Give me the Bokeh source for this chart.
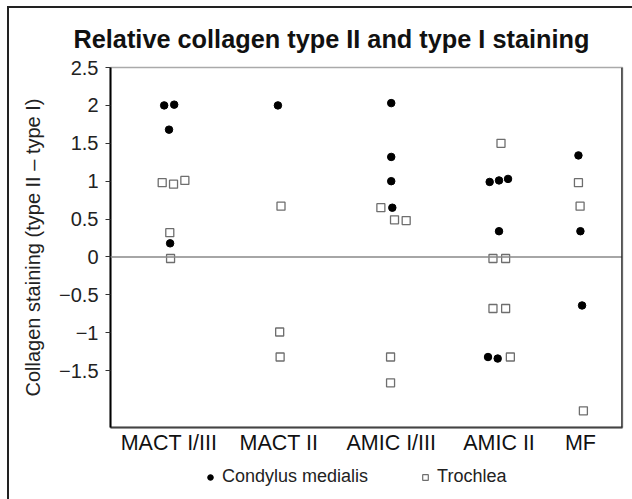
from bokeh.plotting import figure
from bokeh.layouts import column
from bokeh.models import FixedTicker, Span, Legend, LegendItem, ColumnDataSource, Range1d
from bokeh.embed import file_html
from bokeh.resources import INLINE

categories = ["MACT I/III", "MACT II", "AMIC I/III", "AMIC II", "MF"]
category_x = [1.0, 2.0, 3.02, 4.0, 4.74]

y_ticks = [-1.5, -1, -0.5, 0, 0.5, 1, 1.5, 2, 2.5]
y_tick_labels = ["\u22121.5", "\u22121", "\u22120.5", "0", "0.5", "1", "1.5", "2", "2.5"]

condylus_cat = (["MACT I/III"] * 4 + ["MACT II"] + ["AMIC I/III"] * 4
                + ["AMIC II"] * 6 + ["MF"] * 3)
condylus_val = [2.0, 2.01, 1.68, 0.18,
                2.0,
                2.03, 1.32, 1.0, 0.65,
                0.99, 1.01, 1.03, 0.34, -1.32, -1.34,
                1.34, 0.34, -0.64]
condylus_jit = [-0.044, 0.047, 0.0, 0.01,
                -0.01,
                0.0, 0.0, 0.0, 0.01,
                -0.085, 0.0, 0.082, 0.0, -0.1, -0.012,
                -0.018, 0.0, 0.015]

trochlea_cat = (["MACT I/III"] * 5 + ["MACT II"] * 3 + ["AMIC I/III"] * 5
                + ["AMIC II"] * 6 + ["MF"] * 3)
trochlea_val = [0.98, 0.96, 1.01, 0.32, -0.02,
                0.67, -0.99, -1.32,
                0.65, 0.49, 0.48, -1.32, -1.66,
                1.5, -0.02, -0.02, -0.68, -0.68, -1.32,
                0.98, 0.67, -2.03]
trochlea_jit = [-0.062, 0.041, 0.144, 0.007, 0.014,
                0.018, 0.006, 0.01,
                -0.094, 0.03, 0.136, -0.006, -0.006,
                0.018, -0.055, 0.06, -0.055, 0.06, 0.103,
                -0.018, -0.003, 0.027]

pos = dict(zip(categories, category_x))
cond_src = ColumnDataSource(dict(
    x=[pos[c] + j for c, j in zip(condylus_cat, condylus_jit)], y=condylus_val))
troch_src = ColumnDataSource(dict(
    x=[pos[c] + j for c, j in zip(trochlea_cat, trochlea_jit)], y=trochlea_val))

FONT = "Liberation Sans"
X_END = 0.468 + 512 / 110.0

p = figure(width=623, height=451, output_backend="svg", toolbar_location=None,
           x_range=Range1d(0.468, X_END), y_range=Range1d(-2.25, 2.5),
           min_border_left=101, min_border_right=10, min_border_top=59, min_border_bottom=32,
           title="Relative collagen type II and type I staining")

p.title.text_font = FONT
p.title.text_font_size = "25.3px"
p.title.text_font_style = "bold"
p.title.text_color = "#111111"
p.title.text_line_height = 0.9
p.title.align = "left"
p.title.offset = -37
p.title.standoff = 29

p.xgrid.visible = False
p.ygrid.visible = False
p.outline_line_color = "#aaaaaa"
p.outline_line_width = 1.5

# y axis
p.yaxis.ticker = FixedTicker(ticks=y_ticks)
p.yaxis.major_label_overrides = {t: l for t, l in zip(y_ticks, y_tick_labels)}
p.yaxis.axis_line_color = "black"
p.yaxis.axis_line_width = 2
p.yaxis.major_tick_in = 0
p.yaxis.major_tick_out = 5
p.yaxis.major_tick_line_color = "#333333"
p.yaxis.minor_tick_line_color = None
p.yaxis.major_label_text_font = FONT
p.yaxis.major_label_text_font_size = "20px"
p.yaxis.major_label_text_color = "#222222"
p.yaxis.major_label_standoff = 7
p.yaxis.axis_label = "Collagen staining (type II \u2013 type I)"
p.yaxis.axis_label_text_font = FONT
p.yaxis.axis_label_text_font_size = "20px"
p.yaxis.axis_label_text_font_style = "normal"
p.yaxis.axis_label_text_color = "#222222"
p.yaxis.axis_label_standoff = 12

# x axis
p.xaxis.ticker = FixedTicker(ticks=category_x)
p.xaxis.major_label_overrides = {x: c for x, c in zip(category_x, categories)}
p.xaxis.axis_line_color = "#444444"
p.xaxis.axis_line_width = 2
p.xaxis.major_tick_in = 0
p.xaxis.major_tick_out = 0
p.xaxis.minor_tick_line_color = None
p.xaxis.major_label_text_font = FONT
p.xaxis.major_label_text_font_size = "21.5px"
p.xaxis.major_label_text_color = "#111111"
p.xaxis.major_label_standoff = 3

p.add_layout(Span(location=0, dimension="width", line_color="#888888", line_width=1.5))
p.add_layout(Span(location=X_END, dimension="height",
                  line_color="#222222", line_width=2.5))

marker_t = dict(marker="square", size=8, fill_color="white", line_color="#6e6e6e", line_width=1.3)
marker_c = dict(marker="circle", size=7.5, fill_color="black", line_color="black")

p.scatter("x", "y", source=troch_src, **marker_t)
p.scatter("x", "y", source=cond_src, **marker_c)

# legend strip below the chart (same series, ranges chosen so no point is in view)
leg = figure(width=623, height=40, output_backend="svg", toolbar_location=None,
             x_range=Range1d(0, 1), y_range=Range1d(10, 11),
             x_axis_location=None, y_axis_location=None,
             min_border_left=0, min_border_right=0, min_border_top=0, min_border_bottom=0)
leg.xgrid.visible = False
leg.ygrid.visible = False
leg.outline_line_color = None
lr_c = leg.scatter("x", "y", source=cond_src, marker="circle", size=6,
                   fill_color="black", line_color="black")
lr_t = leg.scatter("x", "y", source=troch_src, marker="square", size=7,
                   fill_color="white", line_color="#6e6e6e", line_width=1.2)

legend = Legend(items=[LegendItem(label="Condylus medialis", renderers=[lr_c]),
                       LegendItem(label="Trochlea", renderers=[lr_t])],
                orientation="horizontal", location=(93, 12),
                label_text_font=FONT, label_text_font_size="18px",
                label_text_color="#222222",
                glyph_width=14, spacing=50, padding=0, margin=0,
                border_line_color=None, background_fill_alpha=0)
leg.add_layout(legend)

layout = column(p, leg, spacing=0,
                styles={"margin-left": "7px", "margin-top": "6px",
                        "border-top": "2px solid #222", "border-left": "2px solid #222"})

open("out.html", "w").write(file_html(layout, INLINE))
